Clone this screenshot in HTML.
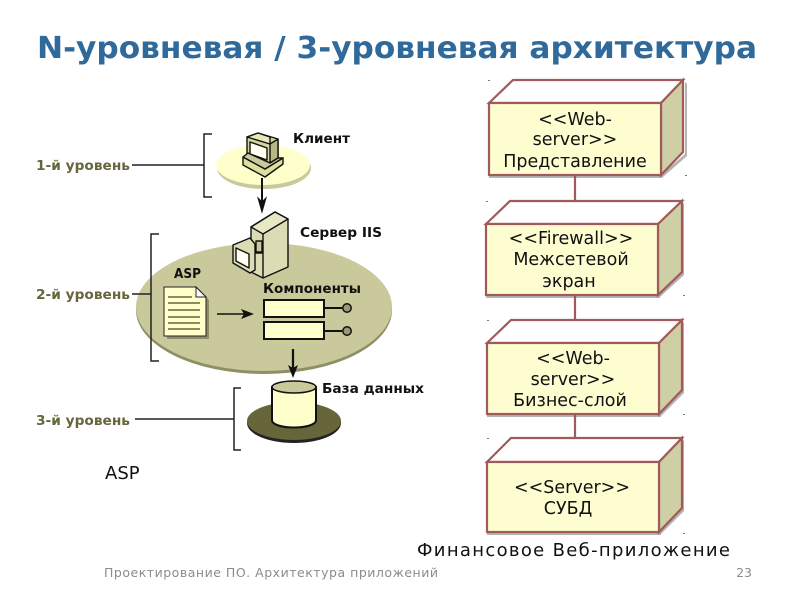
<!DOCTYPE html>
<html><head><meta charset="utf-8"><style>html,body{margin:0;padding:0;background:#fff}svg{display:block}text{font-family:"DejaVu Sans","Liberation Sans",sans-serif}</style></head><body>
<svg width="800" height="600" viewBox="0 0 800 600" xmlns="http://www.w3.org/2000/svg">
<text x="37" y="58" font-size="30" font-weight="700" fill="#2f6a9b" textLength="720" lengthAdjust="spacingAndGlyphs">N-уровневая / 3-уровневая архитектура</text>

<!-- right column -->
<g fill="#b4b4b4">
<path d="M663 177L687 156V84L685 82V154L661 175H489V178H662Z"/>
<path d="M660 297L684 275V204L682 202V272L658 295H486V298H660Z"/>
<path d="M661 416L684 393V323L682 321V390L659 414H487V417H661Z"/>
<path d="M661 534L684 511V441L682 439V508L659 532H487V535H661Z"/>
</g>
<g stroke="#a05a5a" stroke-width="2.2" stroke-linejoin="miter">
<path d="M575 175V201M575 295V320M575 414V438" fill="none"/>
<path d="M489 103L513 80H683L661 103Z" fill="#fff"/><path d="M661 103L683 80V152L661 175Z" fill="#cfcfa6"/><rect x="489" y="103" width="172" height="72" fill="#fdfdd0"/>
<path d="M486 224L510 201H682L658 224Z" fill="#fff"/><path d="M658 224L682 201V272L658 295Z" fill="#cfcfa6"/><rect x="486" y="224" width="172" height="71" fill="#fdfdd0"/>
<path d="M487 343L511 320H682L659 343Z" fill="#fff"/><path d="M659 343L682 320V390L659 414Z" fill="#cfcfa6"/><rect x="487" y="343" width="172" height="71" fill="#fdfdd0"/>
<path d="M487 462L511 438H682L659 462Z" fill="#fff"/><path d="M659 462L682 438V508L659 532Z" fill="#cfcfa6"/><rect x="487" y="462" width="172" height="70" fill="#fdfdd0"/>
</g>
<g font-size="17.5" fill="#111" text-anchor="middle">
<text x="575" y="125">&lt;&lt;Web-</text><text x="575" y="145">server&gt;&gt;</text><text x="575" y="167">Представление</text>
<text x="571" y="244">&lt;&lt;Firewall&gt;&gt;</text><text x="571" y="265">Межсетевой</text><text x="569" y="287">экран</text>
<text x="573" y="364">&lt;&lt;Web-</text><text x="573" y="385">server&gt;&gt;</text><text x="570" y="406">Бизнес-слой</text>
<text x="572" y="493">&lt;&lt;Server&gt;&gt;</text><text x="568" y="514">СУБД</text>
</g>
<text x="417" y="556" font-size="18" fill="#111" textLength="313">Финансовое Веб-приложение</text>

<!-- left diagram -->
<ellipse cx="264" cy="168" rx="47" ry="21" fill="#c9c99c"/>
<ellipse cx="263" cy="165" rx="47" ry="20" fill="#ffffcc"/>
<ellipse cx="264" cy="310" rx="128" ry="64" fill="#8f8f66"/>
<ellipse cx="264" cy="307" rx="128" ry="64" fill="#c9c99c"/>
<ellipse cx="294" cy="423" rx="47" ry="20" fill="#222"/>
<ellipse cx="294" cy="421" rx="47" ry="19" fill="#66663a"/>

<g fill="none" stroke="#222" stroke-width="1.5">
<path d="M212 134H204V197H212M132 165H204"/>
<path d="M159 234H151V361H159M132 294H151"/>
<path d="M241 388H234V450H241M135 419H234"/>
</g>
<g font-size="13.5" font-weight="700" fill="#66663c">
<text x="36" y="170" textLength="94" lengthAdjust="spacingAndGlyphs">1-й уровень</text>
<text x="36" y="299" textLength="94" lengthAdjust="spacingAndGlyphs">2-й уровень</text>
<text x="36" y="425" textLength="94" lengthAdjust="spacingAndGlyphs">3-й уровень</text>
</g>
<g font-size="13.5" font-weight="700" fill="#111">
<text x="293" y="143" textLength="57" lengthAdjust="spacingAndGlyphs">Клиент</text>
<text x="300" y="237" textLength="82" lengthAdjust="spacingAndGlyphs">Сервер IIS</text>
<text x="174" y="278" textLength="27" lengthAdjust="spacingAndGlyphs">ASP</text>
<text x="263" y="293" textLength="98" lengthAdjust="spacingAndGlyphs">Компоненты</text>
<text x="322" y="393" textLength="102" lengthAdjust="spacingAndGlyphs">База данных</text>
</g>

<!-- client computer -->
<g stroke="#111" stroke-width="1.4" stroke-linejoin="round">
<path d="M247 137L258 133L278 139V158L270 163L247 155Z" fill="#d4d49c"/>
<path d="M270 144L278 139V158L270 163Z" fill="#b8b884"/>
<path d="M247 137L258 133L270 137V144Z" fill="#e8e8b8"/>
<path d="M250 142L267 148V160L250 154Z" fill="#fffff0"/>
<path d="M243 157L265 169L283 158V164L265 177L243 165Z" fill="#dede9e"/>
<path d="M243 157L248 153L270 163L278 158L283 158L265 169Z" fill="#c9c99c"/>
</g>
<path d="M262 178V206" stroke="#111" stroke-width="2" fill="none"/>
<path d="M258 198L262 202L266 198L262 212Z" fill="#111" stroke="#111"/>

<!-- server -->
<g stroke="#111" stroke-width="1.4" stroke-linejoin="round">
<path d="M251 227L275 212L288 219V267L263 278L251 272Z" fill="#dcdcb4"/>
<path d="M251 227L263 234L288 219L275 212Z" fill="#e8e8c4"/>
<path d="M263 234V278M252 253H263" fill="none"/>
<path d="M233 245L250 238L255 244V270L250 273L233 263Z" fill="#dcdcb4"/>
<path d="M236 248L249 254V268L236 261Z" fill="#fffff0"/>
<path d="M256 241H262V252H256Z" fill="#c9c99c"/>
</g>

<!-- ASP document -->
<path d="M167 290H199L209 300V339H167Z" fill="#8f8f66"/>
<path d="M164 287H196L206 297V336H164Z" fill="#ffffcc" stroke="#222" stroke-width="1"/>
<path d="M196 287V297H206Z" fill="#fff" stroke="#222" stroke-width="1"/>
<path d="M168 297H192M168 303H200M168 310H200M168 317H200M168 323H200M168 329H200" stroke="#66663c" stroke-width="1.4"/>
<path d="M217 314H247" stroke="#111" stroke-width="1.6"/>
<path d="M241 309L254 314L241 319L244 314Z" fill="#111"/>

<!-- components -->
<g stroke="#111" stroke-width="2" fill="#ffffcc">
<rect x="264" y="300" width="60" height="17"/>
<rect x="264" y="322" width="60" height="17"/>
<path d="M324 308H342M324 331H342" fill="none"/>
</g>
<g stroke="#111" stroke-width="1.5" fill="#9a9a72"><circle cx="347" cy="308" r="4.2"/><circle cx="347" cy="331" r="4.2"/></g>
<path d="M293 349V372" stroke="#111" stroke-width="2.2"/>
<path d="M288 365L293 368L298 365L293 378Z" fill="#111"/>

<!-- database -->
<path d="M272 387V420C272 430 316 430 316 420V387Z" fill="#ffffcc" stroke="#111" stroke-width="2"/>
<ellipse cx="294" cy="387" rx="22" ry="6" fill="#c9c99c" stroke="#111" stroke-width="1.5"/>

<text x="105" y="479" font-size="18" fill="#111">ASP</text>
<text x="104" y="577" font-size="12.5" fill="#8c8c8c" textLength="334">Проектирование ПО. Архитектура приложений</text>
<text x="752" y="577" font-size="12.5" fill="#8c8c8c" text-anchor="end">23</text>

<g fill="#777">
<rect x="488" y="80" width="2" height="1"/><rect x="486" y="201" width="2" height="1"/><rect x="487" y="320" width="2" height="1"/><rect x="487" y="438" width="2" height="1"/>
<rect x="685" y="175" width="2" height="1"/><rect x="683" y="295" width="2" height="1"/><rect x="683" y="414" width="2" height="1"/><rect x="683" y="533" width="2" height="1"/>
</g>
</svg>
</body></html>
